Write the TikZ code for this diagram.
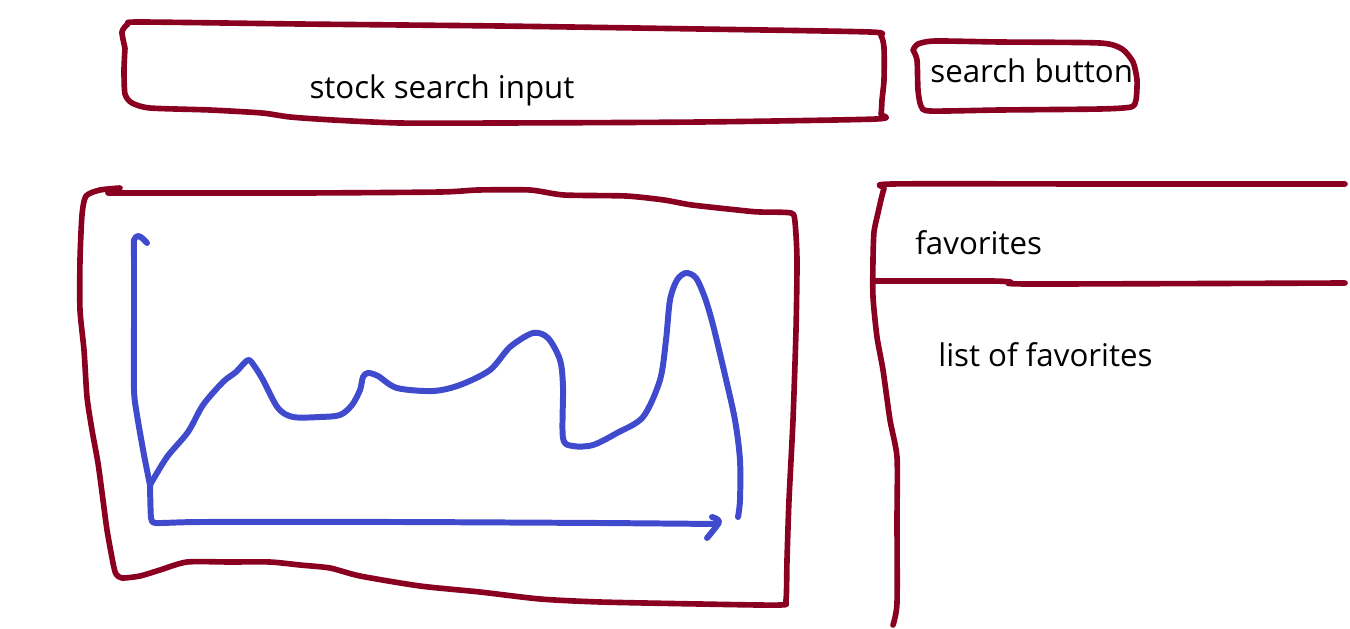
\documentclass[tikz,border=0pt]{standalone}
\usepackage{fontspec}
\setmainfont{Open Sans}
\definecolor{sketchred}{HTML}{8A0020}
\definecolor{sketchblue}{HTML}{3F4BCC}

\begin{document}
\begin{tikzpicture}[x=0.02cm,y=-0.02cm,
    redpen/.style={sketchred,line width=3.2pt,line cap=round,line join=round},
    bluepen/.style={sketchblue,line width=3.4pt,line cap=round,line join=round},
    sketchtext/.style={font=\fontsize{17.8}{21}\selectfont,text=black,inner sep=0pt}]
  \useasboundingbox (0,0) rectangle (1350,629);

  % search row
  \draw[redpen] plot[smooth,tension=0.4] coordinates {(125,48) (122,32) (128,24) (140,22) (300,24) (500,26) (700,29) (870,32) (881,36) (884,48) (884,80) (882,100) (881,114) (876,119) (700,122) (500,123) (400,123) (333,120) (290,117) (262,113) (210,110) (150,108) (132,103) (125,94) (124,70) (125,48)};
  \draw[redpen] plot[smooth,tension=0.4] coordinates {(913,50) (918,44) (935,41) (1000,42) (1100,43) (1122,49) (1133,62) (1137,80) (1136,100) (1131,107) (1100,109) (1000,110) (930,111) (921,106) (918,90) (917,60) (913,50)};
  \node[sketchtext] (searchinput) at (442,90) {stock search input};
  \node[sketchtext,anchor=west] (searchbutton) at (930,71) {search button};

  % chart frame
  \draw[redpen] plot[smooth,tension=0.4] coordinates {(120,188) (100,190) (86,196) (82,215) (80,260) (80,310) (84,350) (87,397) (92,430) (98,463) (103,500) (107,530) (113,563) (116,574) (122,578) (140,576) (160,570) (187,562) (230,562) (270,562) (300,565) (330,568) (360,576) (420,586) (480,592) (540,599) (600,602) (700,604) (780,605) (786,600) (787,560) (789,500) (793,420) (796,330) (797,260) (795,222) (791,213) (760,212) (747,211) (692,205) (664,200) (626,196) (564,195) (530,190) (478,190) (440,192) (300,193) (108,193)};

  % chart
  \draw[bluepen] plot[smooth,tension=0.4] coordinates {(150,485) (144,455) (137,415) (134,390) (134,320) (134,260) (134,240) (138,236) (142,238) (147,243)};
  \draw[bluepen] plot[smooth,tension=0.3] coordinates {(150,485) (151,518) (156,523) (200,522) (400,522) (600,523) (718,524)};
  \draw[bluepen] plot[smooth,tension=0.5] coordinates {(712,517) (719,522) (707,538)};
  \draw[bluepen] plot[smooth,tension=0.5] coordinates {(150,485) (167,457) (188,432) (203,405) (223,382) (236,372) (248,360) (255,367) (263,380) (278,408) (293,417) (320,417) (340,415) (352,405) (360,390) (363,377) (368,373) (378,376) (397,388) (433,391) (460,385) (490,370) (510,347) (533,333) (548,338) (560,360) (563,387) (563,438) (573,446) (593,445) (617,433) (643,417) (660,380) (666,340) (670,300) (677,280) (686,273) (696,278) (705,298) (713,325) (725,375) (735,420) (740,460) (740,500) (738,517)};

  % favorites panel
  \draw[redpen] plot[smooth,tension=0.4] coordinates {(1345,184) (1100,184) (892,184) (884,189) (878,213) (874,232) (873,260) (873,297) (877,337) (883,370) (890,420) (897,457) (897,520) (897,603) (893,625)};
  \draw[redpen] plot[smooth,tension=0.4] coordinates {(875,281) (990,281) (1010,282) (1030,284) (1345,283)};
  \node[sketchtext,anchor=west] (favorites) at (915,243) {favorites};
  \node[sketchtext,anchor=west] (favlist) at (938,355) {list of favorites};
\end{tikzpicture}
\end{document}
